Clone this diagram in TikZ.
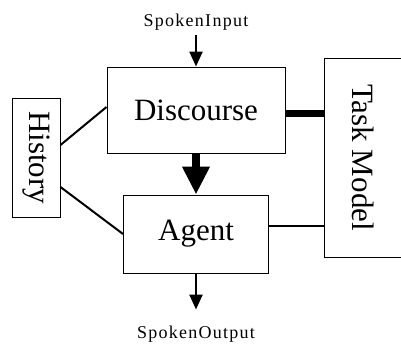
\documentclass[tikz,border=0pt]{standalone}
\usepackage{fontspec}
\setmainfont{Liberation Serif}
\usepackage{graphicx}
\usetikzlibrary{arrows.meta,positioning,calc}
\tikzset{
    dgBoxBase/.style={
        rectangle,
        draw,
        line width=0.5pt,
        inner sep=0pt,
        align=center,
        font=\fontsize{15.5}{18}\selectfont
    },
    dgLabel/.style={
        inner sep=2pt,
        font=\fontsize{9}{11}\selectfont\addfontfeatures{LetterSpace=7}
    },
    % Connectors
    dgLink/.style={line width=1pt},
    dgArrow/.style={-{Triangle[width=6.5pt, length=7.5pt]}, line width=1.2pt},
    dgBigArrow/.style={-{Triangle[width=13pt, length=14pt]}, line width=4pt}
}
\begin{document}
\begin{tikzpicture}[
    x=0.5pt, y=-0.5pt,
    box/.style={dgBoxBase, minimum width=#1},
    box/.default=89pt
]
\useasboundingbox (0,0) rectangle (401,343);

\node[box, minimum height=43pt] (discourse) at (196,110) {Discourse};
\node[box=72.5pt, minimum height=39pt, below=20.5pt of discourse] (agent) {Agent};
\node[box=24pt, minimum height=59.5pt] (history) at (36,157.5) {\rotatebox{-90}{History}};
\node[box=39pt, minimum height=99.5pt] (task) at (363,157.5) {\rotatebox{-90}{Task Model}};
\node[dgLabel, above=16pt of discourse] (input) {SpokenInput};
\node[dgLabel, below=24pt of agent] (output) {SpokenOutput};

\draw[dgLink] ([yshift=6.25pt]history.east) -- ([yshift=1.5pt]discourse.west);
\draw[dgLink] ([yshift=-14.75pt]history.east) -- (agent.west);
\draw[dgLink, line width=3.5pt] ([yshift=-1.5pt]discourse.east) -- ([yshift=-1.5pt]discourse.east -| task.west);
\draw[dgLink] ([yshift=4pt]agent.east) -- ([yshift=4pt]agent.east -| task.west);
\draw[dgArrow] (input) -- (discourse);
\draw[dgBigArrow] (discourse) -- (agent);
\draw[dgArrow, shorten >=6pt] (agent) -- (output);
\end{tikzpicture}
\end{document}
